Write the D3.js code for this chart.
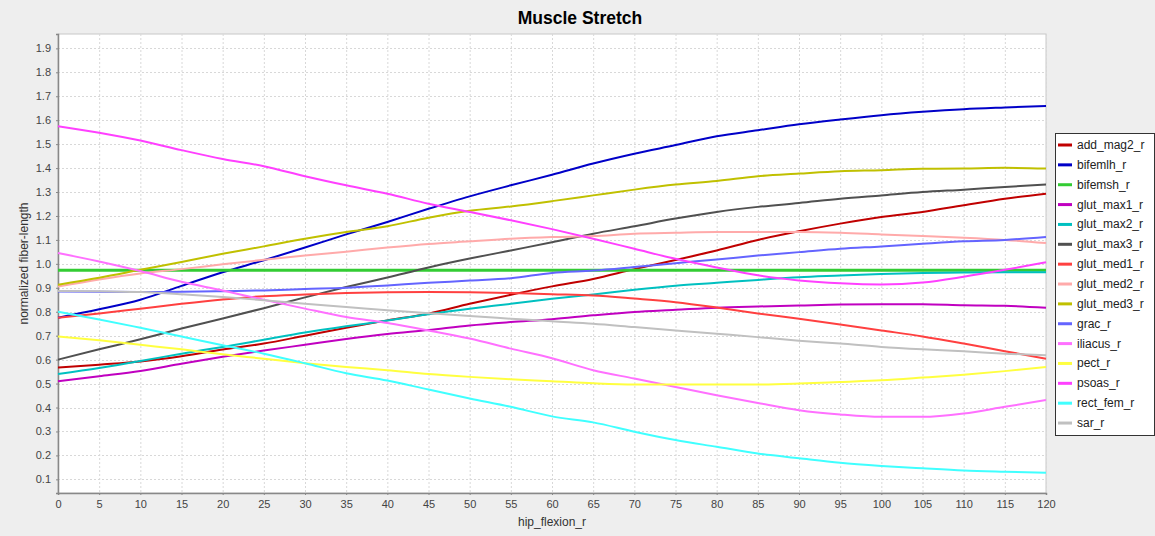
<!DOCTYPE html>
<html>
<head>
<meta charset="utf-8">
<script src="https://cdn.jsdelivr.net/npm/d3@7"></script>
<style>
  body { margin: 0; background: #eeeeee; }
  svg { display: block; font-family: "Liberation Sans", Arial, sans-serif; }
</style>
</head>
<body>
<div id="chart"></div>
<script>
// hip flexion angles (deg)
var angles = d3.range(0, 121, 5);

// normalized fiber lengths, one array per muscle
var add_mag2 = [0.567,0.579,0.592,0.614,0.642,0.667,0.700,0.733,0.764,0.792,0.833,0.871,0.906,0.937,0.978,1.016,1.056,1.100,1.136,1.168,1.196,1.217,1.245,1.272,1.293];
var bifemlh = [0.775,0.81,0.85,0.908,0.965,1.015,1.068,1.123,1.175,1.23,1.282,1.328,1.372,1.419,1.46,1.496,1.533,1.558,1.583,1.603,1.621,1.635,1.646,1.653,1.659];
var bifemsh = angles.map(function() { return 0.973; });
var glut_max1 = [0.51,0.531,0.553,0.583,0.612,0.638,0.662,0.686,0.707,0.724,0.743,0.757,0.769,0.785,0.799,0.808,0.817,0.822,0.826,0.830,0.831,0.831,0.827,0.825,0.817];
var glut_max2 = [0.54,0.565,0.594,0.625,0.653,0.683,0.713,0.739,0.763,0.79,0.813,0.833,0.854,0.872,0.892,0.909,0.921,0.933,0.944,0.951,0.958,0.962,0.964,0.965,0.965];
var glut_max3 = [0.60,0.643,0.685,0.73,0.772,0.815,0.86,0.903,0.943,0.985,1.022,1.056,1.09,1.126,1.157,1.189,1.217,1.238,1.254,1.272,1.286,1.30,1.31,1.321,1.331];
var glut_med1 = [0.775,0.793,0.813,0.833,0.851,0.865,0.872,0.878,0.881,0.882,0.881,0.878,0.873,0.868,0.855,0.84,0.818,0.793,0.771,0.747,0.722,0.697,0.667,0.635,0.604];
var glut_med2 = [0.905,0.935,0.96,0.978,0.998,1.017,1.035,1.051,1.068,1.083,1.094,1.105,1.112,1.116,1.126,1.13,1.133,1.133,1.133,1.13,1.123,1.116,1.109,1.1,1.087];
var glut_med3 = [0.913,0.942,0.975,1.008,1.042,1.073,1.105,1.133,1.157,1.193,1.222,1.24,1.262,1.286,1.31,1.331,1.346,1.366,1.377,1.387,1.391,1.397,1.398,1.401,1.398];
var grac = [0.885,0.883,0.882,0.883,0.886,0.889,0.895,0.9,0.91,0.921,0.93,0.94,0.962,0.972,0.987,1.003,1.018,1.035,1.049,1.063,1.073,1.084,1.094,1.1,1.112];
var iliacus = [1.045,1.01,0.97,0.925,0.889,0.85,0.813,0.778,0.753,0.722,0.688,0.646,0.606,0.556,0.521,0.486,0.451,0.419,0.389,0.371,0.361,0.361,0.375,0.403,0.431];
var pect = [0.697,0.681,0.662,0.643,0.622,0.604,0.585,0.569,0.556,0.54,0.528,0.518,0.51,0.501,0.496,0.496,0.496,0.496,0.5,0.507,0.514,0.525,0.537,0.552,0.569];
var psoas = [1.575,1.548,1.515,1.475,1.438,1.408,1.366,1.328,1.293,1.251,1.217,1.182,1.145,1.105,1.063,1.021,0.985,0.952,0.931,0.919,0.914,0.922,0.946,0.975,1.007];
var rect_fem = [0.8,0.768,0.733,0.697,0.66,0.625,0.585,0.543,0.513,0.475,0.438,0.403,0.363,0.338,0.299,0.264,0.236,0.208,0.188,0.169,0.156,0.146,0.137,0.132,0.128];
var sar = [0.887,0.886,0.882,0.873,0.862,0.848,0.833,0.82,0.806,0.794,0.782,0.771,0.76,0.75,0.736,0.722,0.708,0.694,0.679,0.667,0.653,0.643,0.635,0.625,0.618];

var names = ["add_mag2_r","bifemlh_r","bifemsh_r","glut_max1_r","glut_max2_r","glut_max3_r","glut_med1_r","glut_med2_r","glut_med3_r","grac_r","iliacus_r","pect_r","psoas_r","rect_fem_r","sar_r"];
var values = [add_mag2, bifemlh, bifemsh, glut_max1, glut_max2, glut_max3, glut_med1, glut_med2, glut_med3, grac, iliacus, pect, psoas, rect_fem, sar];
var colors = ["#c00000","#0000c8","#33cc33","#c000c0","#00c0c0","#505050","#ff4040","#ffaaaa","#c0c000","#6464ff","#ff70ff","#ffff40","#ff40ff","#40ffff","#c0c0c0"];

var yTicks = d3.range(1, 20).map(function(d) { return d / 10; });
var xTicks = d3.range(0, 121, 5);

var svgWidth = 1155;
var svgHeight = 536;

var margin = { top: 34, right: 109, bottom: 43, left: 58 };
var width = svgWidth - margin.left - margin.right;
var height = svgHeight - margin.top - margin.bottom;

var svg = d3.select("#chart")
  .append("svg")
  .attr("width", svgWidth)
  .attr("height", svgHeight);

svg.append("rect")
  .attr("width", svgWidth)
  .attr("height", svgHeight)
  .attr("fill", "#eeeeee");

var chartGroup = svg.append("g")
  .attr("transform", `translate(${margin.left}, ${margin.top})`);

var xScale = d3.scaleLinear().domain([0, 120]).range([0, width]);
var yScale = d3.scaleLinear().domain([0.043, 1.96]).range([height, 0]);

// plot background
chartGroup.append("rect")
  .attr("width", width)
  .attr("height", height)
  .attr("fill", "#ffffff")
  .attr("stroke", "#c8c8c8");

// grid lines
chartGroup.append("g")
  .selectAll("line")
  .data(xTicks.slice(1))
  .enter()
  .append("line")
  .attr("x1", d => xScale(d) + 0.5)
  .attr("x2", d => xScale(d) + 0.5)
  .attr("y1", 0)
  .attr("y2", height)
  .attr("stroke", "#d8d8d8")
  .attr("stroke-dasharray", "2,2");

chartGroup.append("g")
  .selectAll("line")
  .data(yTicks)
  .enter()
  .append("line")
  .attr("x1", 0)
  .attr("x2", width)
  .attr("y1", d => Math.round(yScale(d)) + 0.5)
  .attr("y2", d => Math.round(yScale(d)) + 0.5)
  .attr("stroke", "#d8d8d8")
  .attr("stroke-dasharray", "2,2");

// axes
var bottomAxis = d3.axisBottom(xScale).tickValues(xTicks).tickSize(2).tickPadding(5);
var leftAxis = d3.axisLeft(yScale).tickValues(yTicks).tickSize(2).tickPadding(5).tickFormat(d3.format(".1f"));

var xAxis = chartGroup.append("g")
  .attr("transform", `translate(0, ${height})`)
  .call(bottomAxis);

var yAxis = chartGroup.append("g")
  .call(leftAxis);

[xAxis, yAxis].forEach(function(ax) {
  ax.select(".domain").attr("stroke", "#888888").attr("stroke-width", 1.5);
  ax.selectAll(".tick line").attr("stroke", "#888888");
  ax.selectAll(".tick text")
    .attr("fill", "#444444")
    .style("font-size", "11px")
    .style("font-family", "'Liberation Sans', Arial, sans-serif");
});

// series lines
var line = d3.line()
  .x((d, i) => xScale(angles[i]))
  .y(d => yScale(d))
  .curve(d3.curveMonotoneX);

chartGroup.append("g")
  .selectAll("path")
  .data(values)
  .enter()
  .append("path")
  .attr("d", d => line(d))
  .attr("fill", "none")
  .attr("stroke", (d, i) => colors[i])
  .attr("stroke-width", (d, i) => names[i] === "bifemsh_r" ? 3 : 2);

// title
svg.append("text")
  .attr("x", 580)
  .attr("y", 24)
  .attr("text-anchor", "middle")
  .style("font-size", "17.5px")
  .style("font-weight", "bold")
  .attr("fill", "#000000")
  .text("Muscle Stretch");

// axis labels
svg.append("text")
  .attr("x", margin.left + width / 2)
  .attr("y", 526)
  .attr("text-anchor", "middle")
  .style("font-size", "12px")
  .attr("fill", "#333333")
  .text("hip_flexion_r");

svg.append("text")
  .attr("transform", "rotate(-90)")
  .attr("x", -(margin.top + height / 2))
  .attr("y", 28)
  .attr("text-anchor", "middle")
  .style("font-size", "12px")
  .attr("fill", "#333333")
  .text("normalized fiber-length");

// legend
var legend = svg.append("g")
  .attr("transform", "translate(1055, 133)");

legend.append("rect")
  .attr("x", 0.5)
  .attr("y", 0.5)
  .attr("width", 99)
  .attr("height", 302)
  .attr("fill", "#ffffff")
  .attr("stroke", "#333333");

var items = legend.selectAll("g.item")
  .data(names)
  .enter()
  .append("g")
  .attr("class", "item")
  .attr("transform", (d, i) => `translate(0, ${12 + i * 19.86})`);

items.append("line")
  .attr("x1", 3)
  .attr("x2", 17)
  .attr("y1", 0)
  .attr("y2", 0)
  .attr("stroke", (d, i) => colors[i])
  .attr("stroke-width", 3);

items.append("text")
  .attr("x", 22)
  .attr("y", 4)
  .style("font-size", "12px")
  .attr("fill", "#222222")
  .text(d => d);
</script>
</body>
</html>
